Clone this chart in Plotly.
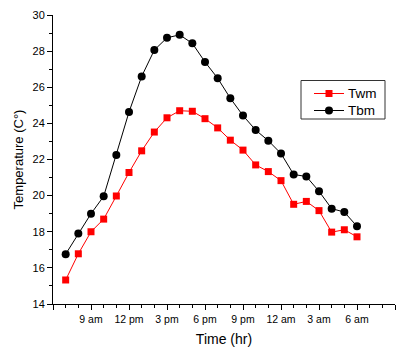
import plotly.graph_objects as go

# Hours elapsed since 6 am (7 am ... 6 am next day)
hours = [1, 2, 3, 4, 5, 6, 7, 8, 9, 10, 11, 12,
         13, 14, 15, 16, 17, 18, 19, 20, 21, 22, 23, 24]

# Wet-bulb (Twm) and dry-bulb (Tbm) mean temperatures, °C
twm = [15.33, 16.78, 18.0, 18.7, 19.98, 21.28, 22.48, 23.52, 24.31, 24.7, 24.67, 24.26,
       23.75, 23.07, 22.52, 21.7, 21.33, 20.83, 19.52, 19.68, 19.17, 17.98, 18.11, 17.72]
tbm = [16.76, 17.9, 19.0, 19.96, 22.25, 24.63, 26.6, 28.06, 28.74, 28.9, 28.43, 27.4,
       26.5, 25.39, 24.43, 23.63, 23.04, 22.33, 21.17, 21.06, 20.24, 19.28, 19.09, 18.3]

series_names = ["Twm", "Tbm"]
series_colors = ["#ff0000", "#000000"]
series_symbols = ["square", "circle"]

tick_hours = [0, 3, 6, 9, 12, 15, 18, 21, 24, 27]
tick_labels = ["", "9 am", "12 pm", "3 pm", "6 pm", "9 pm", "12 am", "3 am", "6 am", ""]

font_family = "Liberation Sans, Arial, sans-serif"

W, H = 404, 347
M_L, M_R, M_T, M_B = 53, 9, 15, 43
PLOT_W = W - M_L - M_R
PLOT_H = H - M_T - M_B


def px_x(p):
    """Pixel column -> paper x."""
    return (p - M_L) / PLOT_W


def px_y(p):
    """Pixel row -> paper y."""
    return (H - M_B - p) / PLOT_H


fig = go.Figure()
for name, vals, color, sym in zip(series_names, [twm, tbm], series_colors, series_symbols):
    fig.add_trace(go.Scatter(
        x=hours, y=vals, name=name, mode="lines+markers",
        line=dict(color=color, width=1),
        marker=dict(symbol=sym, size=7 if sym == "square" else 8, color=color),
        showlegend=False,
    ))

axis_common = dict(
    showline=True, linecolor="black", linewidth=1, mirror=False,
    ticks="outside", tickcolor="black", tickwidth=1, ticklen=5,
    showgrid=False, zeroline=False, automargin=False,
)

fig.update_xaxes(
    **axis_common,
    range=[0, 27],
    tickvals=tick_hours, ticktext=tick_labels,
    tickfont=dict(family=font_family, size=10.5, color="black"),
    minor=dict(dtick=1, tick0=0, ticks="outside", ticklen=3, tickcolor="black", showgrid=False),
    title=dict(text="Time (hr)", font=dict(family=font_family, size=14, color="black"), standoff=13),
)
fig.update_yaxes(
    **axis_common,
    range=[14, 30], dtick=2, tick0=14,
    tickfont=dict(family=font_family, size=11, color="black"),
    minor=dict(dtick=1, ticks="outside", ticklen=3, tickcolor="black", showgrid=False),
    title=dict(text="Temperature (C°)", font=dict(family=font_family, size=13, color="black"), standoff=5),
)

# Boxed legend drawn as shapes and annotations
shapes = [dict(
    type="rect", xref="paper", yref="paper",
    x0=px_x(301), x1=px_x(385), y0=px_y(119), y1=px_y(80.5),
    line=dict(color="#333333", width=1), fillcolor="white", layer="above",
)]
annotations = []
rows_y = [93.5, 110.5]
for name, color, sym, ry in zip(series_names, series_colors, series_symbols, rows_y):
    shapes.append(dict(
        type="line", xref="paper", yref="paper",
        x0=px_x(314), x1=px_x(344), y0=px_y(ry), y1=px_y(ry),
        line=dict(color=color, width=1), layer="above",
    ))
    r = 3.5 if sym == "square" else 4
    shapes.append(dict(
        type="rect" if sym == "square" else "circle", xref="paper", yref="paper",
        x0=px_x(329 - r), x1=px_x(329 + r), y0=px_y(ry + r), y1=px_y(ry - r),
        line=dict(color=color, width=0), fillcolor=color, layer="above",
    ))
    annotations.append(dict(
        text=name, xref="paper", yref="paper", x=px_x(345.5), y=px_y(ry),
        xanchor="left", yanchor="middle", showarrow=False,
        font=dict(family=font_family, size=13.5, color="black"),
    ))

fig.update_layout(
    width=W, height=H,
    margin=dict(l=M_L, r=M_R, t=M_T, b=M_B),
    paper_bgcolor="white", plot_bgcolor="white",
    font=dict(family=font_family, color="black"),
    shapes=shapes, annotations=annotations,
    showlegend=False,
)

fig.write_html("out.html")
